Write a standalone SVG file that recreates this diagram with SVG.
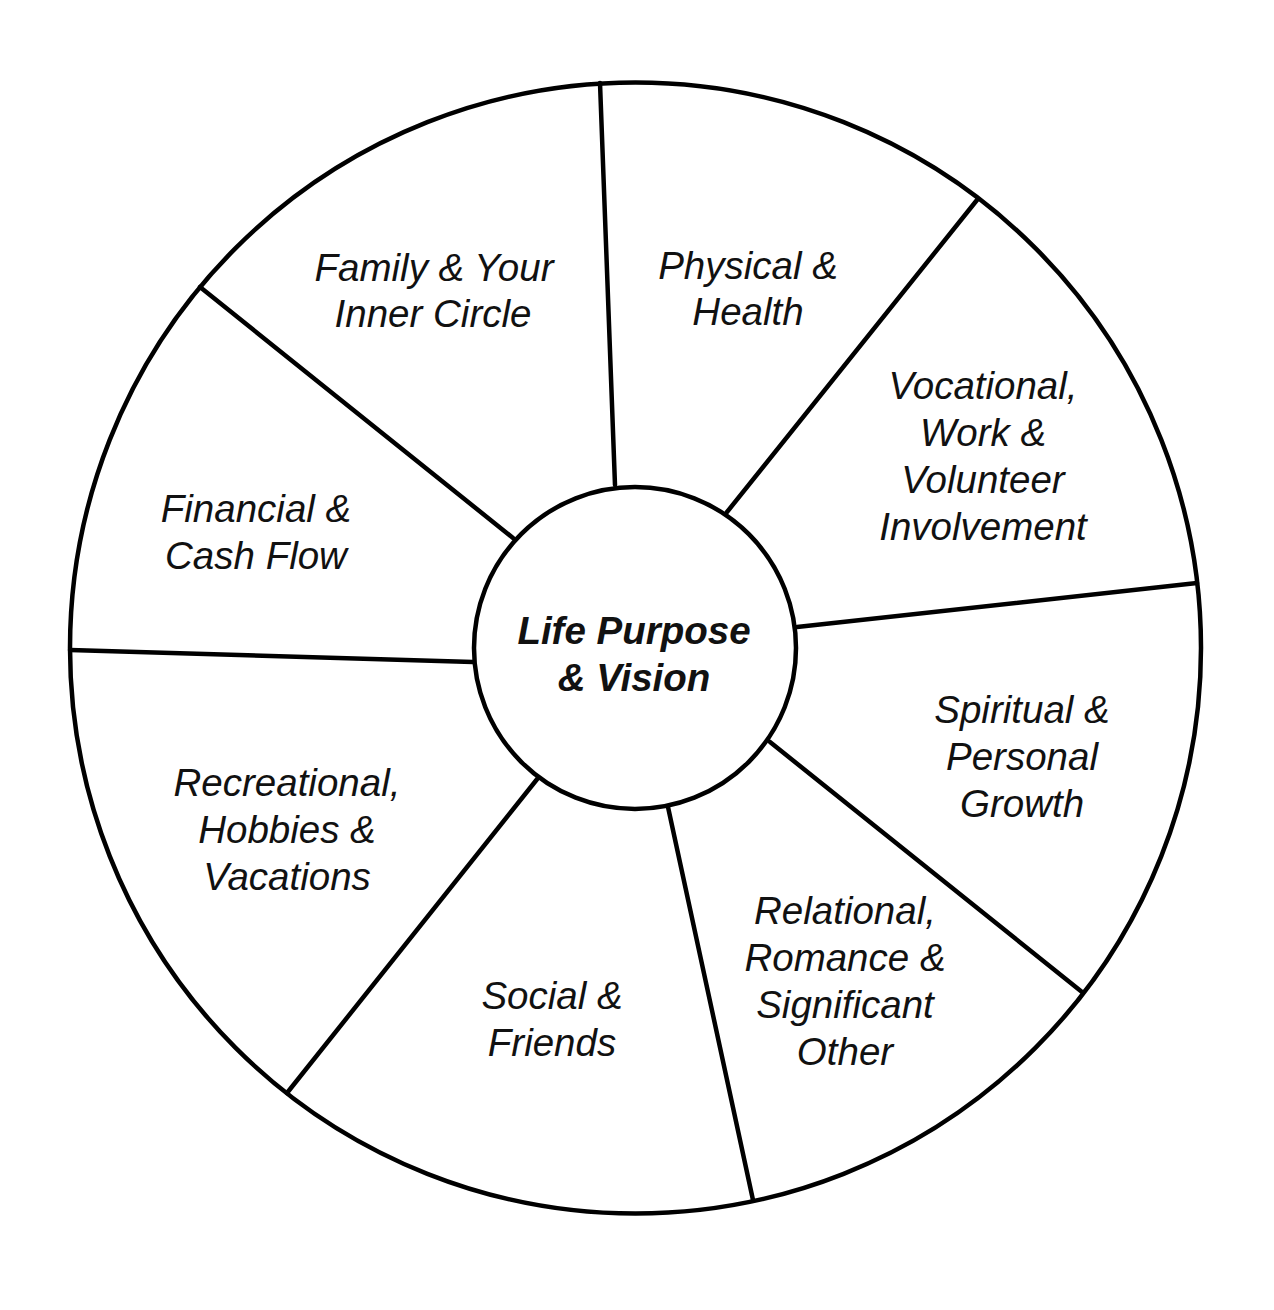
<svg xmlns="http://www.w3.org/2000/svg" width="1274" height="1310" viewBox="0 0 1274 1310">
<style>
.ring{fill:none;stroke:#000;stroke-width:4.5}
.hub{fill:#fff;stroke:#000;stroke-width:4.5}
.spoke{stroke:#000;stroke-width:4.5;stroke-linecap:round}
.lbl{font-family:"Liberation Sans",Arial,sans-serif;font-style:italic;font-size:38.5px;fill:#111;text-anchor:middle}
.ctr{font-weight:bold}
</style>
<rect width="1274" height="1310" fill="#fff"/>
<g id="wheel">
<circle class="ring" cx="635.5" cy="648" r="565.5"/>
</g>
<g id="connectors">
<line class="spoke" x1="615" y1="485" x2="600" y2="83"/>
<line class="spoke" x1="727" y1="512" x2="977" y2="200"/>
<line class="spoke" x1="797" y1="627" x2="1197" y2="583"/>
<line class="spoke" x1="770" y1="742" x2="1082" y2="992"/>
<line class="spoke" x1="668" y1="807" x2="753" y2="1200"/>
<line class="spoke" x1="538" y1="778" x2="287" y2="1093"/>
<line class="spoke" x1="473" y1="662" x2="70" y2="650"/>
<line class="spoke" x1="513" y1="538" x2="200" y2="287"/>
</g>
<g id="center">
<circle class="hub" cx="635" cy="648" r="161"/>
<text class="lbl ctr" x="634" y="644">Life Purpose</text>
<text class="lbl ctr" x="634" y="691">&amp; Vision</text>
</g>
<g id="family">
<text class="lbl" x="434" y="281">Family &amp; Your</text>
<text class="lbl" x="433" y="327">Inner Circle</text>
</g>
<g id="physical">
<text class="lbl" x="748" y="279">Physical &amp;</text>
<text class="lbl" x="748" y="325">Health</text>
</g>
<g id="vocational">
<text class="lbl" x="983" y="399">Vocational,</text>
<text class="lbl" x="983" y="446">Work &amp;</text>
<text class="lbl" x="983" y="493">Volunteer</text>
<text class="lbl" x="983" y="540">Involvement</text>
</g>
<g id="financial">
<text class="lbl" x="256" y="522">Financial &amp;</text>
<text class="lbl" x="256" y="569">Cash Flow</text>
</g>
<g id="spiritual">
<text class="lbl" x="1022" y="723">Spiritual &amp;</text>
<text class="lbl" x="1022" y="770">Personal</text>
<text class="lbl" x="1022" y="817">Growth</text>
</g>
<g id="recreational">
<text class="lbl" x="287" y="796">Recreational,</text>
<text class="lbl" x="287" y="843">Hobbies &amp;</text>
<text class="lbl" x="287" y="890">Vacations</text>
</g>
<g id="social">
<text class="lbl" x="552" y="1009">Social &amp;</text>
<text class="lbl" x="552" y="1056">Friends</text>
</g>
<g id="relational">
<text class="lbl" x="845" y="924">Relational,</text>
<text class="lbl" x="845" y="971">Romance &amp;</text>
<text class="lbl" x="845" y="1018">Significant</text>
<text class="lbl" x="845" y="1065">Other</text>
</g>
</svg>
